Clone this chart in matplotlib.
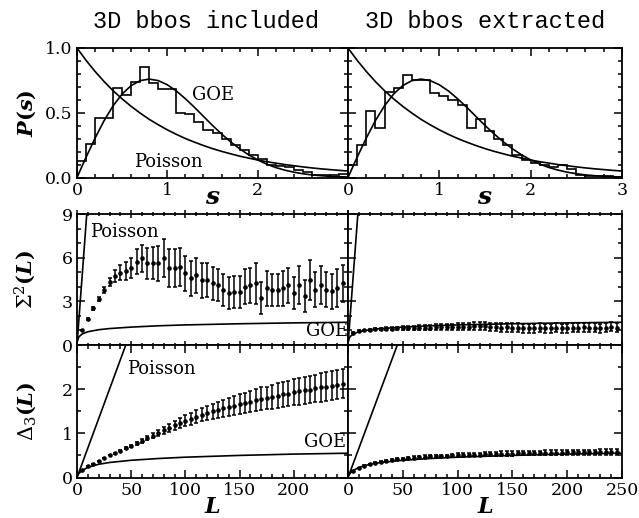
import matplotlib
matplotlib.use("Agg")
import matplotlib.pyplot as plt
from matplotlib.ticker import MultipleLocator

# spacing distribution histograms (bin width 0.1, s = 0 .. 3)
s_edges = [0.0, 0.1, 0.2, 0.3, 0.4, 0.5, 0.6, 0.7, 0.8, 0.9, 1.0, 1.1, 1.2, 1.3, 1.4, 1.5,
           1.6, 1.7, 1.8, 1.9, 2.0, 2.1, 2.2, 2.3, 2.4, 2.5, 2.6, 2.7, 2.8, 2.9, 3.0]
hist_incl = [0.13, 0.26, 0.46, 0.46, 0.69, 0.64, 0.74, 0.85, 0.73, 0.68, 0.68, 0.50, 0.49, 0.43, 0.37,
             0.34, 0.30, 0.25, 0.21, 0.17, 0.14, 0.10, 0.09, 0.08, 0.06, 0.04, 0.02, 0.02, 0.02, 0.03]
hist_extr = [0.10, 0.25, 0.51, 0.38, 0.66, 0.69, 0.79, 0.75, 0.75, 0.65, 0.63, 0.60, 0.56, 0.38, 0.45,
             0.36, 0.30, 0.25, 0.17, 0.135, 0.11, 0.095, 0.08, 0.10, 0.065, 0.02, 0.01, 0.01, 0.01, 0.005]

# reference curves read at the histogram edges
p_poisson = [1.000, 0.905, 0.819, 0.741, 0.670, 0.607, 0.549, 0.497, 0.449, 0.407, 0.368, 0.333,
             0.301, 0.273, 0.247, 0.223, 0.202, 0.183, 0.165, 0.150, 0.135, 0.122, 0.111, 0.100,
             0.091, 0.082, 0.074, 0.067, 0.061, 0.055, 0.050]
p_goe = [0.0, 0.156, 0.304, 0.439, 0.554, 0.645, 0.710, 0.748, 0.760, 0.748, 0.716, 0.668, 0.608,
         0.542, 0.472, 0.402, 0.336, 0.276, 0.222, 0.175, 0.136, 0.103, 0.077, 0.057, 0.041, 0.029,
         0.020, 0.014, 0.009, 0.006, 0.004]

# number variance / spectral rigidity reference curves
L_curve = [0.5, 1, 2, 5, 10, 20, 30, 50, 75, 100, 150, 200, 250]
sig_goe = [0.30, 0.44, 0.58, 0.77, 0.91, 1.05, 1.13, 1.23, 1.32, 1.38, 1.46, 1.52, 1.56]
L_d3 = [0, 2, 5, 10, 20, 30, 50, 75, 100, 150, 200, 250]
d3_goe = [0.02, 0.10, 0.16, 0.23, 0.30, 0.34, 0.39, 0.43, 0.46, 0.50, 0.53, 0.55]
L_pois = [0, 9]
sig_pois = [0, 9]
L_pois3 = [0, 45]
d3_pois = [0, 3]

# measured points
L_pts = [5, 10, 15, 20, 25, 30, 35, 40, 45, 50, 55, 60, 65, 70, 75, 80, 85, 90, 95, 100,
         105, 110, 115, 120, 125, 130, 135, 140, 145, 150, 155, 160, 165, 170, 175, 180,
         185, 190, 195, 200, 205, 210, 215, 220, 225, 230, 235, 240, 245]
sig_incl = [1.00, 1.79, 2.52, 3.16, 3.78, 4.33, 4.74, 4.97, 5.10, 5.27, 5.73, 5.95, 5.61, 5.61,
            5.60, 5.95, 5.27, 5.30, 5.38, 4.92, 4.60, 4.80, 4.46, 4.46, 4.23, 4.12, 3.78, 3.55,
            3.66, 3.66, 4.00, 4.10, 4.23, 3.20, 3.90, 3.78, 3.78, 3.90, 4.10, 3.55, 4.10, 3.40,
            4.46, 3.80, 4.10, 3.80, 3.70, 3.90, 4.23]
sig_incl_err = [0.0, 0.05, 0.1, 0.15, 0.2, 0.3, 0.4, 0.5, 0.6, 0.7, 0.85, 0.95, 1.05, 1.1,
                1.2, 1.3, 1.3, 1.3, 1.3, 1.2, 1.2, 1.2, 1.2, 1.15, 1.15, 1.1, 1.1, 1.1, 1.1,
                1.1, 1.2, 1.2, 1.4, 1.1, 1.2, 1.1, 1.1, 1.2, 1.2, 1.1, 1.3, 1.1, 1.4, 1.2,
                1.3, 1.2, 1.2, 1.3, 1.3]
sig_extr = [0.85, 0.95, 1.00, 1.05, 1.08, 1.10, 1.12, 1.13, 1.15, 1.16, 1.17, 1.18, 1.19, 1.20,
            1.20, 1.22, 1.22, 1.25, 1.23, 1.25, 1.27, 1.25, 1.30, 1.28, 1.30, 1.25, 1.25, 1.20,
            1.22, 1.20, 1.18, 1.15, 1.15, 1.15, 1.18, 1.15, 1.15, 1.18, 1.15, 1.15, 1.20, 1.20,
            1.22, 1.20, 1.20, 1.15, 1.20, 1.25, 1.20]
sig_extr_err = [0.03, 0.05, 0.06, 0.07, 0.08, 0.09, 0.10, 0.11, 0.12, 0.13, 0.14, 0.15, 0.16,
                0.17, 0.18, 0.19, 0.20, 0.21, 0.22, 0.23, 0.24, 0.25, 0.26, 0.27, 0.28, 0.28,
                0.29, 0.29, 0.30, 0.30, 0.30, 0.30, 0.30, 0.30, 0.30, 0.30, 0.30, 0.30, 0.30,
                0.30, 0.30, 0.30, 0.30, 0.30, 0.30, 0.30, 0.30, 0.30, 0.30]
d3_incl = [0.18, 0.25, 0.31, 0.38, 0.44, 0.50, 0.55, 0.61, 0.66, 0.71, 0.77, 0.83, 0.89, 0.95,
           1.01, 1.07, 1.12, 1.18, 1.24, 1.29, 1.33, 1.38, 1.42, 1.46, 1.50, 1.53, 1.57, 1.60,
           1.63, 1.66, 1.69, 1.72, 1.75, 1.78, 1.80, 1.83, 1.85, 1.88, 1.90, 1.93, 1.95, 1.97,
           1.99, 2.02, 2.04, 2.06, 2.08, 2.10, 2.12]
d3_incl_err = [0.0, 0.0, 0.0, 0.0, 0.0, 0.0, 0.01, 0.01, 0.02, 0.02, 0.03, 0.04, 0.05, 0.06,
               0.07, 0.08, 0.09, 0.10, 0.11, 0.12, 0.13, 0.14, 0.15, 0.16, 0.17, 0.18, 0.19,
               0.20, 0.21, 0.22, 0.23, 0.24, 0.25, 0.26, 0.26, 0.27, 0.28, 0.28, 0.29, 0.29,
               0.30, 0.30, 0.31, 0.31, 0.32, 0.32, 0.33, 0.33, 0.33]
d3_extr = [0.15, 0.22, 0.27, 0.30, 0.33, 0.36, 0.38, 0.40, 0.42, 0.43, 0.44, 0.45, 0.46, 0.47,
           0.48, 0.48, 0.49, 0.49, 0.50, 0.51, 0.51, 0.52, 0.52, 0.52, 0.53, 0.53, 0.53, 0.54,
           0.54, 0.54, 0.55, 0.55, 0.55, 0.55, 0.56, 0.56, 0.56, 0.56, 0.56, 0.57, 0.57, 0.57,
           0.57, 0.57, 0.57, 0.58, 0.58, 0.58, 0.58]
d3_extr_err = [0.0, 0.0, 0.01, 0.01, 0.01, 0.01, 0.02, 0.02, 0.02, 0.02, 0.02, 0.03, 0.03,
               0.03, 0.03, 0.03, 0.03, 0.03, 0.04, 0.04, 0.04, 0.04, 0.04, 0.04, 0.04, 0.05,
               0.05, 0.05, 0.05, 0.05, 0.05, 0.05, 0.05, 0.05, 0.05, 0.06, 0.06, 0.06, 0.06,
               0.06, 0.06, 0.06, 0.06, 0.06, 0.06, 0.06, 0.06, 0.06, 0.06]

plt.rcParams["font.family"] = "DejaVu Serif"
plt.rcParams["mathtext.fontset"] = "dejavuserif"
plt.rcParams["axes.linewidth"] = 1.3

fig = plt.figure(figsize=(6.39, 5.18), dpi=100)
W, H = 639.0, 518.0


def add_ax(x0, x1, y0, y1):
    return fig.add_axes([x0 / W, 1 - y1 / H, (x1 - x0) / W, (y1 - y0) / H])


xl = (77, 348)
xr = (348, 622)
rows = [(48, 177.5), (214, 345), (345, 477.5)]

axes = [[add_ax(*xl, *rows[r]), add_ax(*xr, *rows[r])] for r in range(3)]


def style(ax, xmaj, xmin, ymaj, ymin):
    ax.xaxis.set_major_locator(MultipleLocator(xmaj))
    ax.xaxis.set_minor_locator(MultipleLocator(xmin))
    ax.yaxis.set_major_locator(MultipleLocator(ymaj))
    ax.yaxis.set_minor_locator(MultipleLocator(ymin))
    ax.tick_params(which="both", direction="in", top=True, right=True, width=1.1,
                   labelsize=12.5, pad=3)
    ax.tick_params(which="major", length=6)
    ax.tick_params(which="minor", length=3)


lw = 1.2
ebar = dict(fmt="o", ms=2.3, color="black", ecolor="black", elinewidth=1.1,
            capsize=1.5, capthick=1.1)
txt = dict(fontsize=13)

# top row: P(s)
for ax, hist in zip(axes[0], [hist_incl, hist_extr]):
    ax.stairs(hist, s_edges, color="black", lw=lw)
    ax.plot(s_edges, p_poisson, color="black", lw=lw)
    ax.plot(s_edges, p_goe, color="black", lw=lw)
    ax.set_xlim(0, 3)
    ax.set_ylim(0, 1)
    style(ax, 1, 0.2, 0.5, 0.1)
    ax.set_xticks([0, 1, 2, 3])
    ax.set_xlabel("$\\boldsymbol{s}$", fontsize=18, labelpad=-9)

axes[0][0].set_xticklabels(["0", "1", "2", ""])
axes[0][0].set_ylabel("$\\boldsymbol{P(s)}$", fontsize=15)
axes[0][0].text(1.27, 0.60, "GOE", **txt)
axes[0][0].text(0.63, 0.08, "Poisson", **txt)

# middle row: Sigma^2(L)
for ax, y, e in zip(axes[1], [sig_incl, sig_extr], [sig_incl_err, sig_extr_err]):
    ax.plot(L_pois, sig_pois, color="black", lw=lw)
    ax.plot(L_curve, sig_goe, color="black", lw=lw)
    ax.errorbar(L_pts, y, yerr=e, **ebar)
    ax.set_xlim(0, 250)
    ax.set_ylim(0, 9)
    style(ax, 50, 10, 3, 1)
    ax.tick_params(which="both", labelbottom=False)
    ax.tick_params(which="both", axis="x", bottom=True, direction="inout")

axes[1][0].set_ylabel("$\\boldsymbol{\\Sigma^2(L)}$", fontsize=15)
axes[1][0].text(12, 7.4, "Poisson", **txt)
axes[1][0].text(211, 0.62, "GOE", **txt)

# bottom row: Delta_3(L)
for ax, y, e in zip(axes[2], [d3_incl, d3_extr], [d3_incl_err, d3_extr_err]):
    ax.plot(L_pois3, d3_pois, color="black", lw=lw)
    ax.plot(L_d3, d3_goe, color="black", lw=lw)
    ax.errorbar(L_pts, y, yerr=e, **ebar)
    ax.set_xlim(0, 250)
    ax.set_ylim(0, 3)
    style(ax, 50, 10, 1, 0.5)
    ax.set_yticks([0, 1, 2])
    ax.set_xlabel("$\\boldsymbol{L}$", fontsize=16, labelpad=-2)

axes[2][0].set_xticks([0, 50, 100, 150, 200, 250])
axes[2][0].set_xticklabels(["0", "50", "100", "150", "200", ""])
axes[2][0].set_ylabel("$\\boldsymbol{\\Delta_3(L)}$", fontsize=15)
axes[2][0].text(46, 2.35, "Poisson", **txt)
axes[2][0].text(209, 0.68, "GOE", **txt)

for r in range(3):
    axes[r][1].tick_params(labelleft=False)
    axes[r][0].yaxis.set_label_coords(-0.145, 0.5)

fig.text(206 / W, 1 - 22 / H, "3D bbos included", family="Liberation Mono", fontsize=17,
         ha="center", va="center")
fig.text(485 / W, 1 - 22 / H, "3D bbos extracted", family="Liberation Mono", fontsize=17,
         ha="center", va="center")

fig.savefig("out.png", dpi=100)
